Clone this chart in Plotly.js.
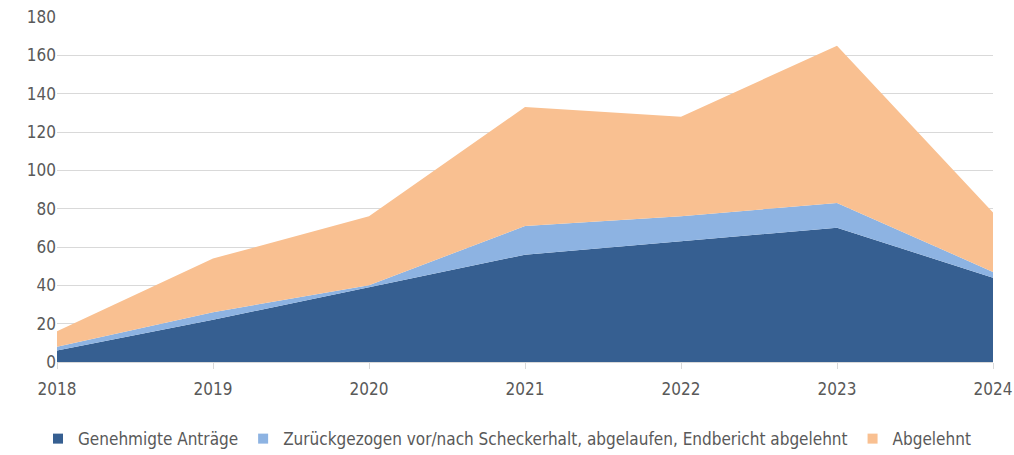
<!DOCTYPE html>
<html><head><meta charset="utf-8">
<script src="https://cdn.plot.ly/plotly-3.0.1.min.js"></script>
<style>body{margin:0;background:#fff}#c{width:1014px;height:455px}</style>
</head><body><div id="c"></div>
<script>
const years = [2018, 2019, 2020, 2021, 2022, 2023, 2024];
const genehmigt = [6, 22, 39, 56, 63, 70, 44];
const zurueckgezogen = [2, 4, 1, 15, 13, 13, 3];
const abgelehnt = [8, 28, 36, 62, 52, 82, 31];
const names = ["Genehmigte Anträge", "Zurückgezogen vor/nach Scheckerhalt, abgelaufen, Endbericht abgelehnt", "Abgelehnt"];
const colors = ["#365f91", "#8db3e2", "#f9c091"];
const series = [genehmigt, zurueckgezogen, abgelehnt];
const font = "'DejaVu Sans Condensed', 'Liberation Sans', Arial, sans-serif";
const traces = series.map((s, i) => ({
  x: years, y: s, name: names[i], type: 'scatter', mode: 'lines',
  stackgroup: 'one', line: {width: 0, color: colors[i]}, fillcolor: colors[i],
  hoverinfo: 'skip', showlegend: false
}));
const legendTraces = names.map((n, i) => ({
  x: [null], y: [null], name: n, type: 'scatter', mode: 'markers',
  marker: {symbol: 'square', size: 10, color: colors[i]}, showlegend: true
}));
const layout = {
  width: 1014, height: 455,
  margin: {l: 57, r: 21, t: 17, b: 93},
  paper_bgcolor: '#fff', plot_bgcolor: '#fff',
  font: {family: font, size: 17, color: '#595959'},
  xaxis: {range: [2018, 2024], tickvals: years, ticktext: years.map(String),
    showgrid: false, zeroline: false, showline: true, linecolor: '#d9d9d9', linewidth: 1,
    ticks: 'outside', ticklen: 6, tickcolor: '#d9d9d9', ticklabelstandoff: 6,
    tickfont: {size: 17, color: '#595959'}},
  yaxis: {range: [0, 180], dtick: 20, showgrid: true, gridcolor: '#d9d9d9', gridwidth: 1,
    zeroline: false, showline: false, tickfont: {size: 17, color: '#595959'}, ticklen: 0, ticks: ''},
  showlegend: true,
  legend: {orientation: 'h', x: 0.5, xanchor: 'center', xref: 'container', yref: 'container', y: 0.035, yanchor: 'middle',
    font: {size: 17, color: '#595959'}, traceorder: 'normal', itemwidth: 30}
};
Plotly.newPlot('c', traces.concat(legendTraces), layout, {displayModeBar: false, staticPlot: true});
</script></body></html>
